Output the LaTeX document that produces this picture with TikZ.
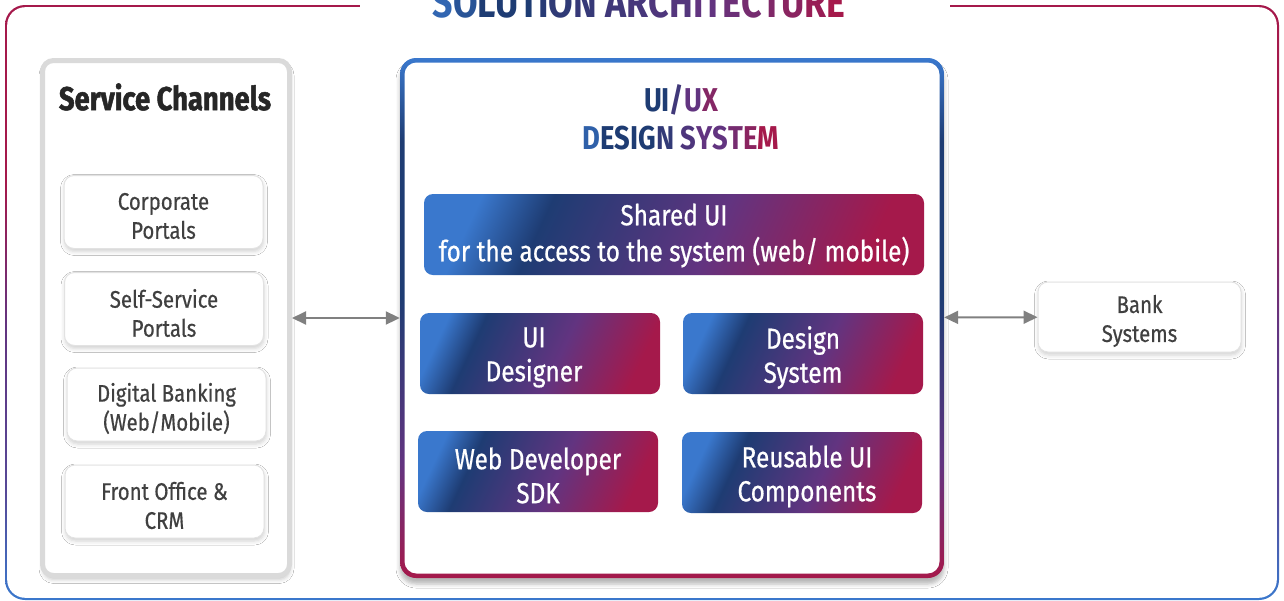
\documentclass[tikz,border=0pt]{standalone}
\usepackage{fontspec}
\setmainfont{Fira Sans}
\newfontfamily\cf{Fira Sans}[FakeStretch=0.85,FakeBold=0.5]
\newfontfamily\gf{Fira Sans}[FakeStretch=0.84,FakeBold=0.6]
\newfontfamily\hf{Fira Sans}[FakeStretch=0.83]
\newfontfamily\hfheavy{Fira Sans}[FakeStretch=0.83,FakeBold=1.5]
\usetikzlibrary{shadows.blur,arrows.meta}
\definecolor{gblue}{RGB}{58,120,205}
\definecolor{gnavy}{RGB}{30,60,115}
\definecolor{gpurp}{RGB}{98,52,128}
\definecolor{gcrim}{RGB}{165,25,75}
\definecolor{txtdark}{RGB}{64,64,64}
\definecolor{titledark}{RGB}{38,38,38}
\definecolor{arrgray}{RGB}{128,128,128}
\definecolor{panelgray}{RGB}{218,218,218}
\definecolor{boxgray}{RGB}{226,226,226}
\pgfdeclarehorizontalshading{boxgrad}{100bp}{color(0bp)=(gblue); color(24bp)=(gblue); color(33bp)=(gnavy); color(55bp)=(gpurp); color(75bp)=(gcrim); color(100bp)=(gcrim)}
\pgfdeclareverticalshading{panelgrad}{100bp}{color(0bp)=(gcrim); color(25bp)=(gcrim); color(36bp)=(gpurp); color(52bp)=(gnavy); color(67bp)=(gnavy); color(75bp)=(gblue); color(100bp)=(gblue)}
\pgfdeclareverticalshading{framegrad}{100bp}{color(0bp)=(gblue); color(25bp)=(gblue); color(34bp)=(gpurp!70!gblue); color(48bp)=(gpurp); color(60bp)=(gcrim); color(100bp)=(gcrim)}
\newcommand{\gl}[2]{\textcolor{#1}{#2}}
\tikzset{
  chanbox/.style={draw=boxgray, line width=1pt, fill=white, rounded corners=10pt,
    minimum width=199pt, minimum height=73pt, inner sep=0pt,
    blur shadow={shadow xshift=0.5pt, shadow yshift=-3pt, shadow blur radius=4pt, shadow opacity=18}},
  chantext/.style={inner sep=0pt, align=center, font=\cf\fontsize{24}{29}\selectfont, text=txtdark},
  gradbox/.style={shading=boxgrad, shading angle=-25, rounded corners=9pt,
    minimum width=240pt, minimum height=81pt, inner sep=0pt},
  gradtext/.style={inner sep=0pt, align=center, font=\gf\fontsize{29}{34}\selectfont, text=white},
  dblarrow/.style={draw=arrgray, line width=2pt, {Triangle[length=14pt,width=13pt]}-{Triangle[length=14pt,width=13pt]}},
}
\begin{document}
\begin{tikzpicture}[x=1pt,y=-1pt]
\useasboundingbox (0,0) rectangle (1284,600);
% outer frame
\path[shading=framegrad, rounded corners=20pt] (5,5) rectangle (1279,600);
\path[fill=white, rounded corners=18pt] (7.2,7.2) rectangle (1276.8,597.8);
\fill[white] (360,0) rectangle (950,12);
\node[anchor=base, font=\hf\bfseries\fontsize{43}{43}\selectfont, inner sep=0pt] (title) at (639,17)
 {\gl{gblue!70!gnavy}{S}\gl{gblue!40!gnavy}{O}\gl{gnavy}{L}\gl{gnavy}{U}\gl{gnavy}{T}\gl{gnavy!85!gpurp}{I}\gl{gnavy!75!gpurp}{O}\gl{gnavy!65!gpurp}{N} \gl{gnavy!50!gpurp}{A}\gl{gnavy!40!gpurp}{R}\gl{gnavy!30!gpurp}{C}\gl{gnavy!20!gpurp}{H}\gl{gpurp}{I}\gl{gpurp}{T}\gl{gpurp!85!gcrim}{E}\gl{gpurp!70!gcrim}{C}\gl{gpurp!55!gcrim}{T}\gl{gpurp!40!gcrim}{U}\gl{gpurp!20!gcrim}{R}\gl{gcrim}{E}};

% service channels panel
\node[draw=panelgray, line width=5pt, fill=white, rounded corners=11pt, minimum width=247pt, minimum height=515pt,
  blur shadow={shadow xshift=0.5pt, shadow yshift=-4pt, shadow blur radius=4pt, shadow opacity=22}] (svc) at (166,318) {};
\node[font=\hfheavy\bfseries\fontsize{33}{33}\selectfont, text=titledark] (svctitle) at (165,97) {Service Channels};
\node[chanbox] (corp) at (163.5,212) {};
\node[chantext] at ([yshift=-4pt]corp.center) {Corporate\\Portals};
\node[chanbox] (self) at (164,309) {};
\node[chantext] at ([yshift=-4pt]self.center) {Self-Service\\Portals};
\node[chanbox] (digi) at (166.5,404.5) {};
\node[chantext] at ([yshift=-4pt]digi.center) {Digital Banking\\(Web/Mobile)};
\node[chanbox] (front) at (164.5,501.5) {};
\node[chantext] at ([yshift=-4pt]front.center) {Front Office \&\\CRM};

% middle panel
\node[shading=panelgrad, rounded corners=16pt, minimum width=544pt, minimum height=520pt, inner sep=0pt,
  blur shadow={shadow xshift=0pt, shadow yshift=-6pt, shadow blur radius=4pt, shadow opacity=28}] (mid) at (672,318) {};
\node[fill=white, rounded corners=12pt, minimum width=535pt, minimum height=511pt, inner sep=0pt] (midin) at (672,318) {};
\node[font=\hf\bfseries\fontsize{33}{38}\selectfont, align=center] (midtitle) at (681,117)
 {\gl{gnavy}{U}\gl{gnavy}{I}\gl{gnavy!50!gpurp}{/}\gl{gpurp}{U}\gl{gpurp!50!gcrim}{X}\\
  \gl{gblue!60!gnavy}{D}\gl{gnavy}{E}\gl{gnavy}{S}\gl{gnavy}{I}\gl{gnavy}{G}\gl{gnavy!70!gpurp}{N} \gl{gnavy!30!gpurp}{S}\gl{gpurp}{Y}\gl{gpurp}{S}\gl{gpurp!70!gcrim}{T}\gl{gpurp!40!gcrim}{E}\gl{gcrim}{M}};
\node[gradbox, minimum width=500pt] (shared) at (674,234.5) {};
\node[gradtext, font=\gf\fontsize{29}{36}\selectfont] at ([yshift=-1pt]shared.center) {Shared UI\\for the access to the system (web/ mobile)};
\node[gradbox] (uid) at (540,353.5) {};
\node[gradtext] at ([xshift=-6pt,yshift=-4pt]uid.center) {UI\\Designer};
\node[gradbox] (dsys) at (803,353.5) {};
\node[gradtext] at ([yshift=-4pt]dsys.center) {Design\\System};
\node[gradbox] (sdk) at (538,471.5) {};
\node[gradtext] at ([yshift=-4pt]sdk.center) {Web Developer\\SDK};
\node[gradbox] (reuse) at (802,472.5) {};
\node[gradtext] at ([xshift=5pt,yshift=-4pt]reuse.center) {Reusable UI\\Components};

% bank systems
\node[chanbox, minimum width=203pt, minimum height=70pt] (bank) at (1139.5,317) {};
\node[chantext] at ([yshift=-4pt]bank.center) {Bank\\Systems};

% connectors
\draw[dblarrow] (svc) -- (mid);
\draw[dblarrow] (mid) -- (bank);
\end{tikzpicture}
\end{document}
